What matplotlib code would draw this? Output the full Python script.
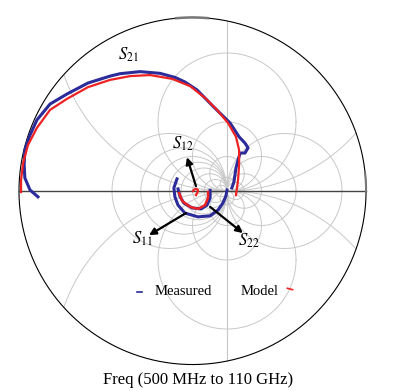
import numpy as np
import matplotlib
matplotlib.use("Agg")
import matplotlib.pyplot as plt

plt.rcParams['font.family'] = ['Liberation Serif', 'DejaVu Serif']
plt.rcParams['mathtext.fontset'] = 'stix'

# chart scale: outer circle |G| and grid values (compressed Smith chart)
r_outer = 5.03
r_values = [5, 2, 1, 0.5, 0.2, 0, -0.2, -0.4, -1.6, -2, -3, -5]
x_values = [0.2, 0.5, 1, 2, 5, -0.2, -0.5, -1, -2, -5]

# S21 (Re, Im)
s21_meas_re = [-4.48, -4.71, -4.86, -4.88, -4.86, -4.71, -4.51, -4.13, -3.64, -3.03, -2.39, -2.1,
               -1.52, -0.94, -0.50, -0.22, 0.13, 0.62, 1.09, 1.35, 1.52, 1.61, 1.52, 1.38, 1.32,
               1.26, 1.23, 1.20, 1.14]
s21_meas_im = [-0.17, 0.03, 0.38, 0.75, 1.19, 1.62, 2.06, 2.52, 2.81, 3.13, 3.33, 3.40,
               3.46, 3.41, 3.29, 3.16, 2.93, 2.43, 1.97, 1.57, 1.39, 1.25, 1.10, 1.10, 0.90,
               0.67, 0.46, 0.26, 0.09]
s21_model_re = [-4.97, -4.97, -4.91, -4.77, -4.51, -4.13, -3.64, -3.03, -2.39, -1.81, -1.23, -0.59,
                -0.07, 0.36, 0.71, 1.03, 1.26, 1.35, 1.35, 1.32, 1.26]
s21_model_im = [-0.03, 0.32, 0.81, 1.33, 1.83, 2.35, 2.67, 3.01, 3.22, 3.33, 3.36, 3.25,
                3.04, 2.70, 2.35, 1.97, 1.57, 1.19, 0.75, 0.32, -0.12]

# S11 measured
s11_meas_re = [-0.45, -0.54, -0.51, -0.42, -0.22, 0.16, 0.51, 0.74, 0.88, 0.97, 1.00]
s11_meas_im = [0.35, 0.09, -0.17, -0.41, -0.64, -0.75, -0.72, -0.55, -0.35, -0.14, 0.03]

# S22
s22_meas_re = [-0.42, -0.36, -0.25, -0.01, 0.25, 0.42, 0.51, 0.51]
s22_meas_im = [0.06, -0.17, -0.35, -0.49, -0.52, -0.41, -0.20, 0.02]
s22_model_re = [-0.39, -0.30, -0.07, 0.16, 0.36, 0.45, 0.45]
s22_model_im = [-0.06, -0.29, -0.46, -0.52, -0.41, -0.20, -0.03]

# S12 model
s12_model_re = [0.01, 0.06, 0.10, 0.15, 0.16, 0.13, 0.10]
s12_model_im = [0.00, 0.05, 0.06, 0.04, 0.00, -0.06, -0.12]

blue = '#2b2b9a'
red = '#ee2222'
grid_c = '#c8c8c8'

fig = plt.figure(figsize=(3.94, 3.91), dpi=100)
ax = fig.add_axes([0, 0, 1, 1])
ax.set_xlim(-5.58, 5.84)
ax.set_ylim(-5.797, 5.536)
ax.axis('off')


def draw_circle(cx, cy, rad):
    t = np.linspace(0, 2 * np.pi, 1500)
    xs = cx + rad * np.cos(t)
    ys = cy + rad * np.sin(t)
    out = np.hypot(xs, ys) > r_outer
    xs[out] = np.nan
    ys[out] = np.nan
    ax.plot(xs, ys, color=grid_c, lw=0.7, zorder=1)


for r in r_values:
    draw_circle(r / (1 + r), 0, 1 / abs(1 + r))
for x in x_values:
    draw_circle(1, 1 / x, 1 / abs(x))

# r = -1 line
h = np.sqrt(r_outer ** 2 - 1)
ax.plot([1, 1], [-h, h], color=grid_c, lw=0.8, zorder=1)

# outer circle and real axis
t = np.linspace(0, 2 * np.pi, 800)
ax.plot(r_outer * np.cos(t), r_outer * np.sin(t), color='black', lw=0.8, zorder=2)
ax.plot([-r_outer, r_outer], [0, 0], color='#444444', lw=1.0, zorder=2)
ta = np.linspace(np.pi / 2 - 0.09, np.pi / 2 + 0.095, 30)
ax.plot(r_outer * np.cos(ta), r_outer * np.sin(ta), color='#777777', lw=1.8, zorder=2)
tb = np.linspace(0, 0.1, 20)
ax.plot(r_outer * np.cos(tb), r_outer * np.sin(tb), color='#777777', lw=1.5, zorder=2)

# traces
ax.plot(s21_meas_re, s21_meas_im, color=blue, lw=2.2, zorder=3)
ax.plot(s21_model_re, s21_model_im, color=red, lw=1.6, zorder=4)
ax.plot(s11_meas_re, s11_meas_im, color=blue, lw=2.2, zorder=3)
ax.plot(s22_meas_re, s22_meas_im, color=blue, lw=2.2, zorder=3)
ax.plot(s22_model_re, s22_model_im, color=red, lw=1.8, zorder=4)
ax.plot(s12_model_re, s12_model_im, color=red, lw=1.6, zorder=4)

# arrows and labels
arrow = dict(arrowstyle='-|>', color='black', lw=1.6, mutation_scale=10, shrinkA=0, shrinkB=0)
ax.annotate('', xy=(-0.16, 0.98), xytext=(0.10, 0.14), arrowprops=arrow, zorder=5)
ax.annotate('', xy=(-1.26, -1.28), xytext=(-0.19, -0.64), arrowprops=arrow, zorder=5)
ax.annotate('', xy=(1.46, -1.22), xytext=(0.51, -0.46), arrowprops=arrow, zorder=5)

lab = dict(fontsize=12, ha='center', va='center', zorder=6)
ax.text(-1.85, 3.95, r'$S_{21}$', **lab)
ax.text(-0.28, 1.37, r'$S_{12}$', **lab)
ax.text(-1.45, -1.38, r'$S_{11}$', **lab)
ax.text(1.63, -1.43, r'$S_{22}$', **lab)

# legend
ax.text(-1.09, -2.9, 'Measured', fontsize=10.5, ha='left', va='center', zorder=6)
ax.plot([-1.6, -1.45], [-2.93, -2.93], color=blue, lw=1.2, zorder=6)
ax.text(1.39, -2.9, 'Model', fontsize=10.5, ha='left', va='center', zorder=6)
ax.plot([2.75, 2.9], [-2.82, -2.86], color=red, lw=1.2, zorder=6)

ax.text(0.16, -5.47, 'Freq (500 MHz to 110 GHz)', fontsize=12, ha='center', va='center')

fig.savefig('out.png', dpi=100)
